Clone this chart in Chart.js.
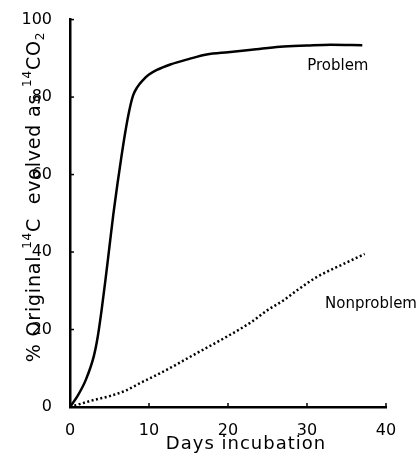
<!DOCTYPE html>
<html>
<head>
<meta charset="utf-8">
<script src="https://cdn.jsdelivr.net/npm/chart.js@4/dist/chart.umd.min.js"></script>
<style>
  html, body { margin: 0; padding: 0; background: #fff; }
  #wrap { width: 420px; height: 456px; }
</style>
</head>
<body>
<div id="wrap"><canvas id="co2Chart" width="420" height="456"></canvas></div>
<script>
// valori
const problemDays = [0, 1, 2, 3, 3.5, 4, 4.5, 5, 5.5, 6, 6.5, 7, 7.5, 8, 8.5, 9.3, 10, 11, 12.7, 15, 17.3, 20, 23, 26.6, 30, 33, 37];
const problemPct  = [0, 3, 7, 13, 18, 25, 33, 41.5, 50, 57.5, 64.5, 71, 76.5, 80.5, 82.5, 84.5, 85.8, 87, 88.4, 89.8, 91, 91.6, 92.2, 93, 93.3, 93.5, 93.4];

const nonproblemDays = [0, 3, 5, 7, 9, 11.4, 13.5, 15.6, 19.8, 23, 25, 27, 29, 31.2, 34.6, 37.3];
const nonproblemPct  = [0, 1.8, 2.8, 4.2, 6.3, 8.7, 11, 13.4, 18.1, 22, 25, 27.5, 30.5, 33.5, 36.9, 39.5];

const xTicks = [0, 10, 20, 30, 40];
const yTicks = [0, 20, 40, 60, 80, 100];

const FONT = "'DejaVu Sans', sans-serif";

function toPoints(xs, ys) {
    return xs.map((x, i) => ({ x: x, y: ys[i] }));
}

// titluri de axe si etichete de curbe desenate manual (superscript / subscript)
const annotPlugin = {
    id: 'annot',
    afterDraw(chart) {
        const ctx = chart.ctx;
        const xs = chart.scales.x, ys = chart.scales.y;

        // tick-uri mici spre interior
        ctx.save();
        ctx.strokeStyle = '#000';
        ctx.lineWidth = 1.5;
        xTicks.forEach(v => {
            const px = xs.getPixelForValue(v);
            ctx.beginPath();
            ctx.moveTo(px, ys.bottom);
            ctx.lineTo(px, ys.bottom - 4);
            ctx.stroke();
        });
        yTicks.forEach(v => {
            const py = ys.getPixelForValue(v);
            ctx.beginPath();
            ctx.moveTo(xs.left, py);
            ctx.lineTo(xs.left + 4, py);
            ctx.stroke();
        });
        ctx.restore();

        // eticheta axa X
        ctx.save();
        ctx.fillStyle = '#000';
        ctx.font = '18px ' + FONT;
        ctx.letterSpacing = '1px';
        ctx.textAlign = 'center';
        ctx.textBaseline = 'middle';
        ctx.fillText('Days incubation', (xs.left + xs.right) / 2 + 18, 444);
        ctx.restore();

        // eticheta axa Y
        const parts = [
            { t: '% Original ', s: 19, dy: 0 },
            { t: '14', s: 12, dy: -9 },
            { t: 'C  evolved as ', s: 19, dy: 0 },
            { t: '14', s: 12, dy: -9 },
            { t: 'CO', s: 19, dy: 0 },
            { t: '2', s: 12, dy: 4 }
        ];
        ctx.save();
        ctx.fillStyle = '#000';
        ctx.textBaseline = 'alphabetic';
        ctx.textAlign = 'left';
        ctx.letterSpacing = '0.8px';
        let total = 0;
        parts.forEach(p => {
            ctx.font = p.s + 'px ' + FONT;
            p.w = ctx.measureText(p.t).width;
            total += p.w;
        });
        ctx.translate(40, 197);
        ctx.rotate(-Math.PI / 2);
        let cx = -total / 2;
        parts.forEach(p => {
            ctx.font = p.s + 'px ' + FONT;
            ctx.fillText(p.t, cx, p.dy);
            cx += p.w;
        });
        ctx.restore();

        // etichete curbe
        ctx.save();
        ctx.fillStyle = '#000';
        ctx.font = '15px ' + FONT;
        ctx.textAlign = 'center';
        ctx.textBaseline = 'middle';
        ctx.fillText('Problem', xs.getPixelForValue(33.9), ys.getPixelForValue(87.9));
        ctx.fillText('Nonproblem', xs.getPixelForValue(38.1), ys.getPixelForValue(26.5));
        ctx.restore();
    }
};

const ctx = document.getElementById('co2Chart').getContext('2d');
const co2Chart = new Chart(ctx, {
    type: 'line',
    data: {
        datasets: [{
            label: 'Problem',
            data: toPoints(problemDays, problemPct),
            borderColor: '#000',
            borderWidth: 2.5,
            pointRadius: 0,
            cubicInterpolationMode: 'monotone',
            fill: false
        }, {
            label: 'Nonproblem',
            data: toPoints(nonproblemDays, nonproblemPct),
            borderColor: '#000',
            borderWidth: 2.5,
            borderDash: [2, 2.5],
            pointRadius: 0,
            cubicInterpolationMode: 'monotone',
            fill: false
        }]
    },
    options: {
        responsive: false,
        animation: false,
        layout: { padding: { left: 0, right: 34, top: 19, bottom: 0 } },
        plugins: {
            legend: { display: false },
            tooltip: { enabled: false }
        },
        scales: {
            x: {
                type: 'linear',
                min: 0,
                max: 40,
                afterBuildTicks: s => { s.ticks = xTicks.map(v => ({ value: v })); },
                afterFit: s => { s.height = 49; },
                grid: { display: false },
                border: { display: true, color: '#000', width: 2.5 },
                ticks: { color: '#000', padding: 6, font: { family: FONT, size: 16 } }
            },
            y: {
                min: 0,
                max: 100,
                afterBuildTicks: s => { s.ticks = yTicks.map(v => ({ value: v })); },
                afterFit: s => { s.width = 70; },
                grid: { display: false },
                border: { display: true, color: '#000', width: 2.5 },
                ticks: { color: '#000', padding: 10, font: { family: FONT, size: 16 } }
            }
        }
    },
    plugins: [annotPlugin]
});
</script>
</body>
</html>
